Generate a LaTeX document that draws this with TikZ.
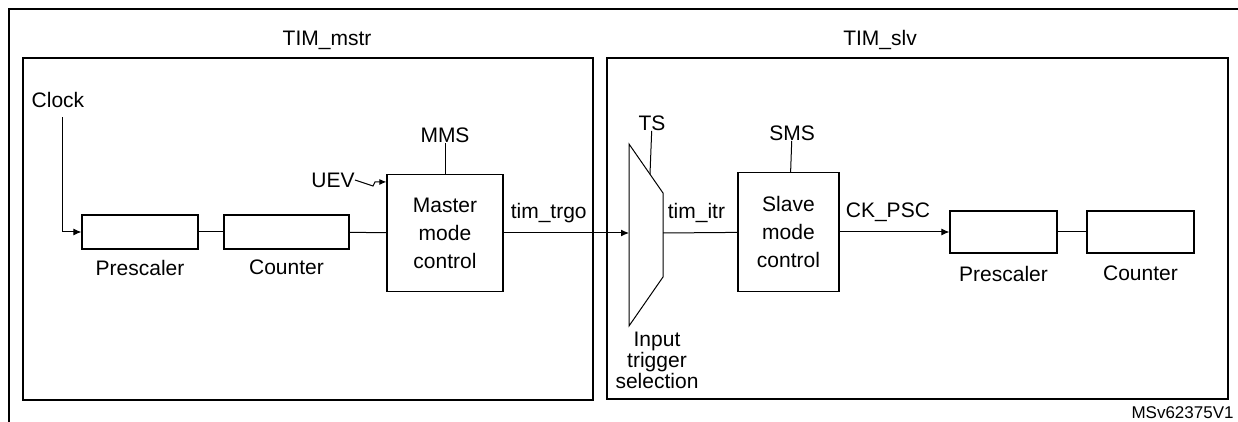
\documentclass[tikz,border=0pt]{standalone}
\usepackage{fontspec}
\setmainfont{Liberation Sans}
\usetikzlibrary{arrows.meta,positioning}

\begin{document}
\begin{tikzpicture}[
x=0.5pt, y=-0.5pt,
txt/.style={font=\fontsize{10.5}{14}\selectfont, inner sep=0pt, align=center},
blk/.style={draw, line width=0.6pt, inner sep=0pt, minimum height=17pt},
sig/.style={line width=0.5pt},
arr/.style={sig, -{Latex[length=4pt,width=3.5pt]}},
]
\useasboundingbox (0,0) rectangle (1238,422);
\clip (0,0) rectangle (1238,422);
% frames
\draw[line width=1.2pt] (9,9) rectangle (1260,440);
\draw[line width=0.9pt] (23,58) rectangle (593,400);
\draw[line width=0.9pt] (607,58) rectangle (1228,399);
\node[txt] (mstr) at (327,40) {TIM\_mstr};
\node[txt] (slv) at (880,40) {TIM\_slv};

% master timer
\node[txt] (clock) at (58,100) {Clock};
\node[blk, minimum width=58pt] (psc1) at (140,232) {};
\node[blk, minimum width=62.5pt] (cnt1) at (286.5,232) {};
\node[txt, below=5pt of psc1] {Prescaler};
\node[txt, below=5pt of cnt1] {Counter};
\node[blk, txt, draw, minimum width=58pt, minimum height=58.5pt] (mmc) at (445,233) {Master\\mode\\control};
\node[txt] (mms) at (445,135) {MMS};
\node[txt] (uev) at (333,180) {UEV};
\draw[arr] (clock.south) ++(4,9) |- (psc1.west);
\draw[sig] (psc1) -- (cnt1);
\draw[sig] (cnt1) -- (mmc);
\draw[sig] (mms) -- (mmc);
\draw[sig, -{Latex[length=3.5pt,width=3pt]}] (uev.east) -- ++(18,6) -- ++(2,-4) -- ([yshift=-4pt]mmc.north west);

% slave timer
\draw[sig] (629,144) coordinate (mux-nw) -- (663,193) -- (663,277) coordinate (mux-se) -- (629,326) coordinate (mux-sw) -- cycle;
\coordinate (mux-in) at (629,233);
\coordinate (mux-out) at (663,233);
\node[txt] (ts) at (652,123) {TS};
\draw[sig] (ts) -- (650,174);
\node[txt, font=\fontsize{10.5}{10.5}\selectfont, below=3pt of mux-sw, xshift=14pt] (its) {Input\\trigger\\selection};
\draw[arr] (mmc) -- node[txt, above=5pt, pos=0.36] {tim\_trgo} (mux-in);
\node[blk, txt, minimum width=50.5pt, minimum height=59.5pt] (smc) at (788.5,232) {Slave\\mode\\control};
\node[txt] (sms) at (792,133) {SMS};
\draw[sig] (sms) -- (smc);
\draw[sig] (mux-out) -- node[txt, above=5pt, pos=0.45] {tim\_itr} (smc);
\node[blk, minimum width=53.5pt, minimum height=21pt] (psc2) at (1003.5,232) {};
\node[blk, minimum width=53.5pt, minimum height=21pt] (cnt2) at (1140.5,232) {};
\node[txt, below=6pt of psc2] {Prescaler};
\node[txt, below=6pt of cnt2] {Counter};
\draw[arr] (smc) -- node[txt, above=5pt, pos=0.44] {CK\_PSC} (psc2);
\draw[sig] (psc2) -- (cnt2);
\node[txt, font=\fontsize{8.5}{10}\selectfont, anchor=east] (ref) at (1234,413) {MSv62375V1};
\end{tikzpicture}
\end{document}
